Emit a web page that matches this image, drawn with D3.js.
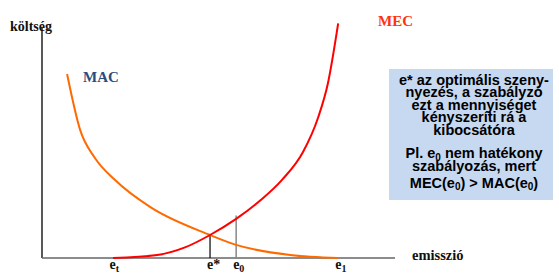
<!DOCTYPE html>
<html>
<head>
<meta charset="utf-8">
<script src="https://cdn.jsdelivr.net/npm/d3@7"></script>
<style>
  body { margin: 0; background: #fff; }
  svg { display: block; }
</style>
</head>
<body>
<svg id="chart" width="559" height="274"></svg>
<script>
// Curve data (emission 0-100, cost 0-100)
const mec_x = [20.1, 32.6, 40.5, 47.6, 55, 61.8, 68, 73.9, 78.2, 81, 83.9];
const mec_y = [0, 1.3, 4.6, 10, 17, 25, 34, 46, 61, 76, 102];
const mac_x = [7.1, 10.8, 15, 20.7, 30.6, 47.6, 55, 70.3, 83.9];
const mac_y = [80, 55.7, 43.5, 33.9, 22.2, 10, 5.7, 1.3, 0];

// Marked emission levels
const e_t = 20, e_star = 47.6, e_0 = 55, e_1 = 83.9;
const e_star_top = 10, e_0_top = 18.5;

// Box text lines
const box_lines1 = ['e* az optimális szeny-', 'nyezés, a szabályzó', 'ezt a mennyiséget', 'kényszeríti rá a', 'kibocsátóra'];

const svg = d3.select('#chart');
const margin = { left: 42, top: 28, bottom: 16 };
const axis_end = 395;
const height = 274;

const x = d3.scaleLinear().domain([0, 100]).range([margin.left, axis_end]);
const y = d3.scaleLinear().domain([0, 100]).range([height - margin.bottom, margin.top]);

const line = d3.line()
    .x(d => x(d[0]))
    .y(d => y(d[1]))
    .curve(d3.curveMonotoneX);

// axes
svg.append('line')
    .attr('x1', x(0)).attr('x2', x(0))
    .attr('y1', y(100)).attr('y2', y(0))
    .attr('stroke', '#222').attr('stroke-width', 1.5);
svg.append('line')
    .attr('x1', x(0)).attr('x2', x(100))
    .attr('y1', y(0)).attr('y2', y(0))
    .attr('stroke', '#666').attr('stroke-width', 1.5);

// vertical marker lines
svg.append('line')
    .attr('x1', x(e_star)).attr('x2', x(e_star))
    .attr('y1', y(0)).attr('y2', y(e_star_top))
    .attr('stroke', '#000').attr('stroke-width', 1.2);
svg.append('line')
    .attr('x1', x(e_0)).attr('x2', x(e_0))
    .attr('y1', y(0)).attr('y2', y(e_0_top))
    .attr('stroke', '#888').attr('stroke-width', 1.5);

// curves
svg.append('path')
    .datum(mac_x.map((v, i) => [v, mac_y[i]]))
    .attr('d', line)
    .attr('fill', 'none')
    .attr('stroke', '#ff6a00')
    .attr('stroke-width', 2);
svg.append('path')
    .datum(mec_x.map((v, i) => [v, mec_y[i]]))
    .attr('d', line)
    .attr('fill', 'none')
    .attr('stroke', '#ff0000')
    .attr('stroke-width', 2);

// tick labels
const serif = '"Liberation Serif", "Times New Roman", serif';
const ticks = [[e_t, 't'], [e_star, '*'], [e_0, '0'], [e_1, '1']];
ticks.forEach(([v, s]) => {
    const t = svg.append('text')
        .attr('x', x(v) - 3)
        .attr('y', 269)
        .attr('font-family', serif)
        .attr('font-weight', 'bold')
        .attr('font-size', 14)
        .attr('fill', '#111')
        .text('e');
    if (s === '*') {
        t.append('tspan').text('*');
    } else {
        t.append('tspan').attr('dy', 3).attr('font-size', 10).text(s);
    }
});

// axis titles and curve labels
svg.append('text').attr('x', 10).attr('y', 31)
    .attr('font-family', serif).attr('font-weight', 'bold').attr('font-size', 14)
    .attr('fill', '#111').text('költség');
svg.append('text').attr('x', 412).attr('y', 260)
    .attr('font-family', serif).attr('font-weight', 'bold').attr('font-size', 14.5)
    .attr('fill', '#111').text('emisszió');
svg.append('text').attr('x', 83).attr('y', 82)
    .attr('font-family', serif).attr('font-weight', 'bold').attr('font-size', 15)
    .attr('fill', '#2a4d7f').text('MAC');
svg.append('text').attr('x', 378).attr('y', 26)
    .attr('font-family', serif).attr('font-weight', 'bold').attr('font-size', 15)
    .attr('fill', '#ff3311').text('MEC');

// note box
const box = { x: 389, y: 69, w: 164, h: 131 };
svg.append('rect')
    .attr('x', box.x).attr('y', box.y)
    .attr('width', box.w).attr('height', box.h)
    .attr('fill', '#c6d9f1');

const sans = '"Liberation Sans", Arial, sans-serif';
const cx = box.x + box.w / 2 + 3;
const txt = svg.append('g')
    .attr('font-family', sans)
    .attr('font-weight', 'bold')
    .attr('font-size', 14.5)
    .attr('fill', '#000')
    .attr('text-anchor', 'middle');

box_lines1.forEach((l, i) => {
    txt.append('text').attr('x', cx).attr('y', 85 + i * 12.4).text(l);
});

const l6 = txt.append('text').attr('x', cx).attr('y', 158);
l6.append('tspan').text('Pl. e');
l6.append('tspan').attr('dy', 3).attr('font-size', 10).text('0');
l6.append('tspan').attr('dy', -3).text(' nem hatékony');

txt.append('text').attr('x', cx).attr('y', 171).text('szabályozás, mert');

const l8 = txt.append('text').attr('x', cx).attr('y', 188);
l8.append('tspan').text('MEC(e');
l8.append('tspan').attr('font-size', 10).attr('dy', 2).text('0');
l8.append('tspan').attr('dy', -2).text(') > MAC(e');
l8.append('tspan').attr('font-size', 10).attr('dy', 2).text('0');
l8.append('tspan').attr('dy', -2).text(')');
</script>
</body>
</html>
